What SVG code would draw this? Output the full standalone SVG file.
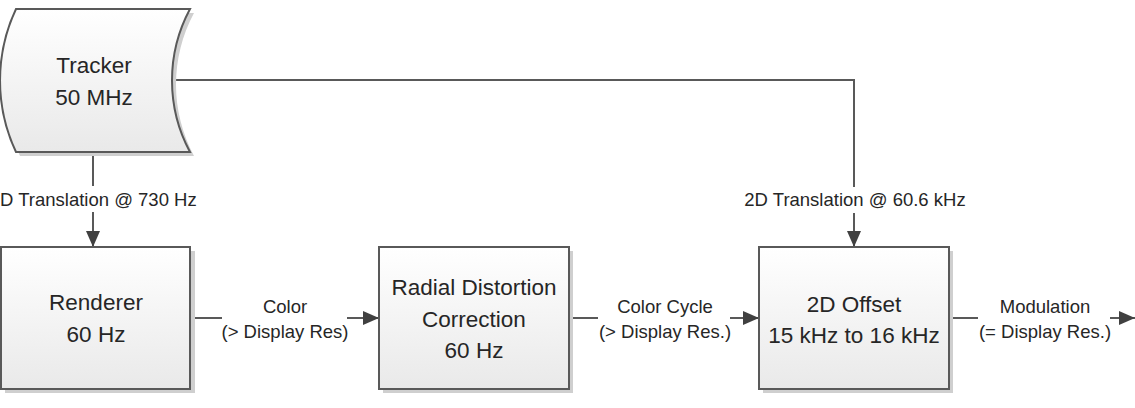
<svg xmlns="http://www.w3.org/2000/svg" width="1135" height="408" viewBox="0 0 1135 408">
<defs>
<linearGradient id="fill" x1="0" y1="0" x2="0" y2="1">
<stop offset="0" stop-color="#ffffff"/>
<stop offset="1" stop-color="#e9e9e9"/>
</linearGradient>
<marker id="arr" markerUnits="userSpaceOnUse" markerWidth="16" markerHeight="14" refX="16" refY="7" orient="auto">
<path d="M0,0 L16,7 L0,14 Z" fill="#404040"/>
</marker>
<style>
.box{fill:url(#fill);stroke:#595959;stroke-width:2}
.shadow{fill:#cfcfcf}
.t{font-family:"Liberation Sans",Arial,sans-serif;font-size:22.5px;fill:#262626;text-anchor:middle}
.l{font-family:"Liberation Sans",Arial,sans-serif;font-size:18.5px;fill:#262626;text-anchor:middle}
.c{fill:none;stroke:#595959;stroke-width:2}
</style>
</defs>
<rect width="1135" height="408" fill="#ffffff"/>
<g id="connectors">
<line class="c" x1="93" y1="154" x2="93" y2="186"/>
<line class="c" x1="93" y1="212" x2="93" y2="247" marker-end="url(#arr)"/>
<polyline class="c" points="172,80 854,80 854,187"/>
<line class="c" x1="854" y1="213" x2="854" y2="247" marker-end="url(#arr)"/>
<line class="c" x1="190" y1="318" x2="222" y2="318"/>
<line class="c" x1="347" y1="318" x2="379" y2="318" marker-end="url(#arr)"/>
<line class="c" x1="569" y1="318" x2="598" y2="318"/>
<line class="c" x1="730" y1="318" x2="759" y2="318" marker-end="url(#arr)"/>
<line class="c" x1="949" y1="318" x2="978" y2="318"/>
<line class="c" x1="1110" y1="318" x2="1135" y2="318" marker-end="url(#arr)"/>
<text class="l" x="0" y="206" style="text-anchor:start">D Translation @ 730 Hz</text>
<text class="l" x="855" y="206">2D Translation @ 60.6 kHz</text>
<text class="l" x="285" y="313">Color</text>
<text class="l" x="285" y="338">(&gt; Display Res)</text>
<text class="l" x="665" y="313">Color Cycle</text>
<text class="l" x="665" y="338">(&gt; Display Res.)</text>
<text class="l" x="1045" y="313">Modulation</text>
<text class="l" x="1045" y="338">(= Display Res.)</text>
</g>
<g id="tracker">
<path class="shadow" transform="translate(4,4)" d="M16,9 L190,9 A151,151 0 0 0 190,152 L16,152 A168,168 0 0 1 16,9 Z"/>
<path class="box" d="M16,9 L190,9 A151,151 0 0 0 190,152 L16,152 A168,168 0 0 1 16,9 Z"/>
<text class="t" x="94" y="73">Tracker</text>
<text class="t" x="94" y="105">50 MHz</text>
</g>
<g id="renderer">
<rect class="shadow" x="5" y="251" width="190" height="142"/>
<rect class="box" x="1" y="247" width="189" height="142"/>
<text class="t" x="96" y="310">Renderer</text>
<text class="t" x="96" y="342">60 Hz</text>
</g>
<g id="radial">
<rect class="shadow" x="383" y="251" width="190" height="142"/>
<rect class="box" x="379" y="247" width="190" height="142"/>
<text class="t" x="474" y="295">Radial Distortion</text>
<text class="t" x="474" y="327">Correction</text>
<text class="t" x="474" y="358">60 Hz</text>
</g>
<g id="offset">
<rect class="shadow" x="763" y="251" width="190" height="142"/>
<rect class="box" x="759" y="247" width="190" height="142"/>
<text class="t" x="854" y="312">2D Offset</text>
<text class="t" x="854" y="343">15 kHz to 16 kHz</text>
</g>
</svg>
